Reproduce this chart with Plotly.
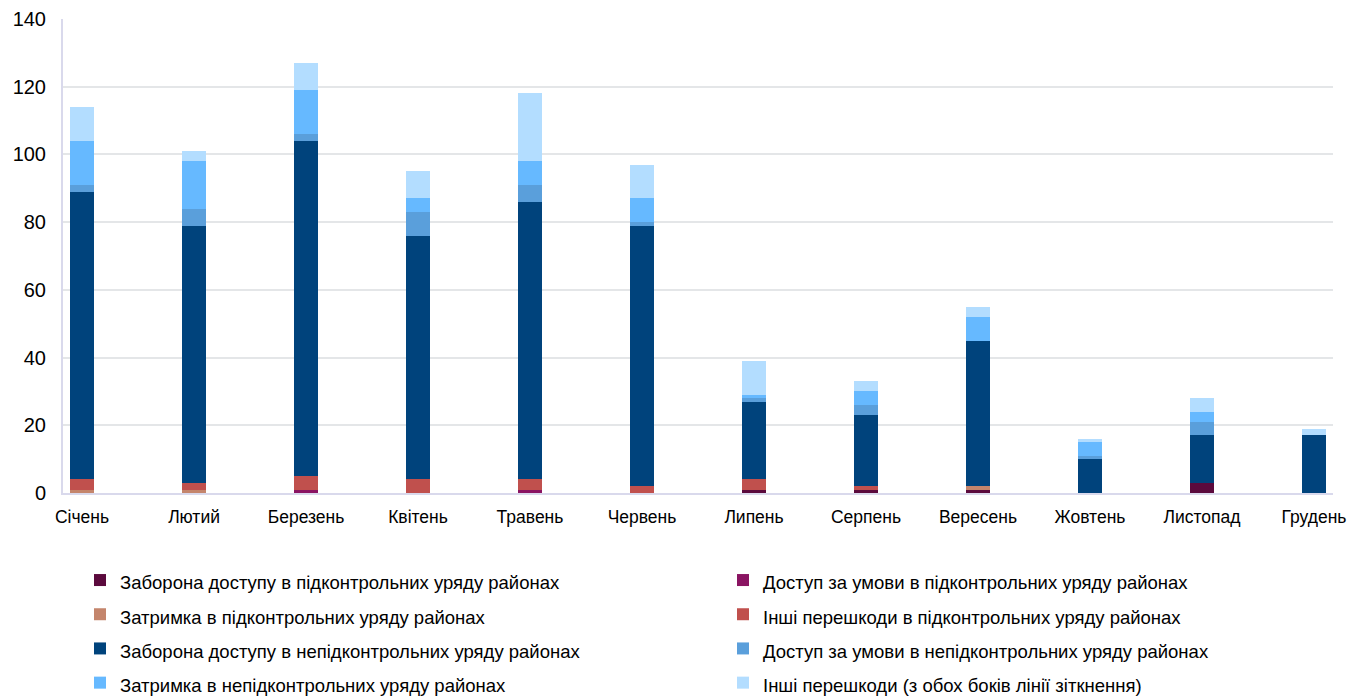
import plotly.graph_objects as go

months = ["Січень", "Лютий", "Березень", "Квітень", "Травень", "Червень",
          "Липень", "Серпень", "Вересень", "Жовтень", "Листопад", "Грудень"]

series_names = [
    "Заборона доступу в підконтрольних уряду районах",
    "Доступ за умови в підконтрольних уряду районах",
    "Затримка в підконтрольних уряду районах",
    "Інші перешкоди в підконтрольних уряду районах",
    "Заборона доступу в непідконтрольних уряду районах",
    "Доступ за умови в непідконтрольних уряду районах",
    "Затримка в непідконтрольних уряду районах",
    "Інші перешкоди (з обох боків лінії зіткнення)",
]

zab_p   = [0, 0, 0, 0, 0, 0, 1, 1, 1, 0, 3, 0]
dost_p  = [0, 0, 1, 0, 1, 0, 0, 0, 0, 0, 0, 0]
zatr_p  = [1, 1, 0, 0, 0, 0, 0, 0, 1, 0, 0, 0]
inshi_p = [3, 2, 4, 4, 3, 2, 3, 1, 0, 0, 0, 0]
zab_n   = [85, 76, 99, 72, 82, 77, 23, 21, 43, 10, 14, 17]
dost_n  = [2, 5, 2, 7, 5, 1, 1, 3, 0, 1, 4, 0]
zatr_n  = [13, 14, 13, 4, 7, 7, 1, 4, 7, 4, 3, 0]
inshi   = [10, 3, 8, 8, 20, 10, 10, 3, 3, 1, 4, 2]

series_values = [zab_p, dost_p, zatr_p, inshi_p, zab_n, dost_n, zatr_n, inshi]
colors = ["#5B0A3D", "#8A1462", "#C4856C", "#C0504D",
          "#00437C", "#5A9FDB", "#66B9FF", "#B3DDFF"]

x_idx = list(range(len(months)))

fig = go.Figure()
for name, vals, col in zip(series_names, series_values, colors):
    fig.add_trace(go.Bar(
        x=x_idx, y=vals,
        name='<span style="font-size:18.5px">' + name + '</span>',
        marker=dict(color=col, line=dict(width=0)),
    ))

FONT = "Liberation Sans, Arial, sans-serif"
W, H = 1352, 698
ML, MR, MT, MB = 10, 19, 19, 205
GW = W - ML - MR

fig.update_layout(
    barmode="stack",
    bargap=0.785,
    width=W, height=H,
    margin=dict(l=ML, r=MR, t=MT, b=MB, autoexpand=False),
    paper_bgcolor="white",
    plot_bgcolor="white",
    font=dict(family=FONT, color="#000000"),
    showlegend=True,
    legend=dict(
        orientation="h",
        x=(80 - ML) / GW, y=-0.137, xanchor="left", yanchor="top",
        entrywidth=598, entrywidthmode="pixels",
        font=dict(size=24, family=FONT, color="#000000"),
        traceorder="normal",
    ),
    xaxis=dict(
        domain=[(63 - ML) / GW, 1],
        tickmode="array", tickvals=x_idx, ticktext=months,
        range=[-0.17, 11.17],
        showgrid=False, zeroline=False,
        showline=True, linecolor="#D9D9EC", linewidth=2,
        ticks="", tickfont=dict(size=17.5, family=FONT),
        ticklabelstandoff=7,
    ),
    yaxis=dict(
        range=[0, 140], dtick=20,
        showgrid=True, gridcolor="#E4E6E8", gridwidth=1.5,
        zeroline=False,
        showline=True, linecolor="#D9D9EC", linewidth=2,
        ticks="", tickfont=dict(size=20, family=FONT),
        ticklabelstandoff=11,
    ),
)

fig.write_html("out.html",
               config={"displayModeBar": False},
               post_script="document.body.style.margin='0px';")
